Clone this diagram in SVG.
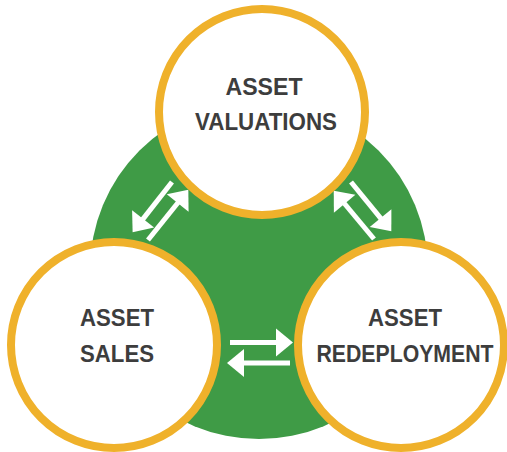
<svg xmlns="http://www.w3.org/2000/svg" width="507" height="452" viewBox="0 0 507 452">
<defs>
<style>
.node{fill:#ffffff;stroke:#efb12b;stroke-width:8}
.lbl{font-family:"Liberation Sans",Arial,sans-serif;font-weight:bold;font-size:23px;fill:#3d3d3d;text-anchor:middle}
.arr{stroke:#ffffff;stroke-width:5;fill:none;marker-end:url(#head)}
</style>
<marker id="head" markerUnits="userSpaceOnUse" markerWidth="40" markerHeight="40" refX="1" refY="0" viewBox="-2 -20 40 40" orient="auto" overflow="visible">
<path d="M0,-14 L17,0 L0,14 z" fill="#ffffff"/>
</marker>
</defs>
<rect width="507" height="452" fill="#ffffff"/>
<circle id="bg" cx="259" cy="270" r="169" fill="#3f9b46"/>
<g id="connectors">
<line class="arr" x1="172" y1="182" x2="142.5" y2="219.6"/>
<line class="arr" x1="148" y1="240" x2="178.3" y2="202.3"/>
<line class="arr" x1="351" y1="182" x2="381.2" y2="218.9"/>
<line class="arr" x1="374" y1="239" x2="344" y2="203"/>
<line class="arr" x1="230" y1="342.5" x2="277" y2="342.5"/>
<line class="arr" x1="290" y1="363" x2="243" y2="363"/>
</g>
<g id="valuations">
<circle class="node" cx="262" cy="112" r="103"/>
<text class="lbl" x="264" y="95" textLength="77" lengthAdjust="spacingAndGlyphs">ASSET</text>
<text class="lbl" x="266" y="130" textLength="142" lengthAdjust="spacingAndGlyphs">VALUATIONS</text>
</g>
<g id="sales">
<circle class="node" cx="114" cy="345" r="103"/>
<text class="lbl" x="117" y="326" textLength="74" lengthAdjust="spacingAndGlyphs">ASSET</text>
<text class="lbl" x="117" y="362" textLength="74" lengthAdjust="spacingAndGlyphs">SALES</text>
</g>
<g id="redeployment">
<circle class="node" cx="401" cy="345" r="103"/>
<text class="lbl" x="405" y="326" textLength="74" lengthAdjust="spacingAndGlyphs">ASSET</text>
<text class="lbl" x="405" y="362" textLength="177" lengthAdjust="spacingAndGlyphs">REDEPLOYMENT</text>
</g>
</svg>
